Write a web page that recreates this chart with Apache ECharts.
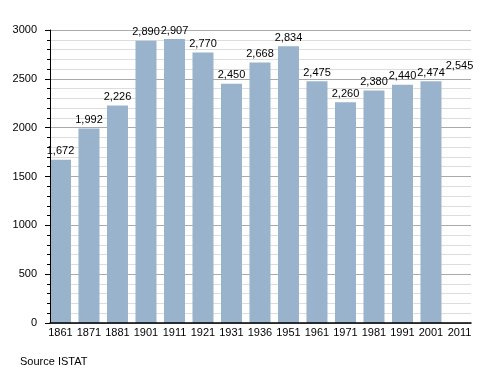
<!DOCTYPE html>
<html><head><meta charset="utf-8">
<script src="https://cdn.jsdelivr.net/npm/echarts@6/dist/echarts.min.js"></script>
<style>html,body{margin:0;padding:0;background:#fff}#c{width:500px;height:373px}</style>
</head><body><div id="c"></div>
<script>
var categories = ['1861','1871','1881','1901','1911','1921','1931','1936','1951','1961','1971','1981','1991','2001','2011'];
var values = [1672,1992,2226,2890,2907,2770,2450,2668,2834,2475,2260,2380,2440,2474,2545];
var hiddenBars = ['2011'];
var yTicks = [0,500,1000,1500,2000,2500,3000];
var sourceText = 'Source ISTAT';

var FONT = '"Liberation Sans", Arial, sans-serif';
var idx = categories.map(function(_, i){ return i; });
var chart = echarts.init(document.getElementById('c'), null, {renderer:'canvas'});
chart.setOption({
  animation:false,
  textStyle:{fontFamily:FONT},
  grid:{left:50, width:421, top:30, height:293, containLabel:false},
  xAxis:{
    type:'value', min:-0.368, max:14.404, z:5,
    axisLine:{show:true, onZero:false, lineStyle:{color:'#000', width:1.5}},
    axisTick:{show:false},
    splitLine:{show:false},
    axisLabel:{customValues:idx, margin:4, color:'#000', fontSize:11, fontFamily:FONT,
      formatter:function(v){ return categories[Math.round(v)]; }}
  },
  yAxis:[{
    type:'value', min:0, max:3000, interval:500, position:'left',
    axisLine:{show:false},
    axisTick:{show:false},
    minorTick:{show:false, splitNumber:5},
    splitLine:{show:true, lineStyle:{color:'#aaaaaa', width:1}},
    minorSplitLine:{show:true, lineStyle:{color:'#dddddd', width:1}},
    axisLabel:{show:false}
  },{
    type:'value', min:0, max:3000, interval:500, position:'left', offset:0, z:5,
    axisLine:{show:true, onZero:false, lineStyle:{color:'#000', width:1}},
    axisTick:{show:true, length:5, lineStyle:{color:'#000'}},
    minorTick:{show:true, splitNumber:5, length:3, lineStyle:{color:'#000'}},
    splitLine:{show:false},
    minorSplitLine:{show:false},
    axisLabel:{customValues:yTicks, margin:13, color:'#000', fontSize:11, fontFamily:FONT,
      formatter:function(v){ return String(v); }}
  }],
  title:{text:sourceText, left:20, top:356, padding:0, textStyle:{fontSize:11, fontWeight:'normal', color:'#000', fontFamily:FONT}},
  series:[{
    type:'bar', barWidth:21, z:2, yAxisIndex:0,
    data: values.map(function(v, i){
      var d = {value:[i, v]};
      if (hiddenBars.indexOf(categories[i]) >= 0) d.itemStyle = {color:'rgba(0,0,0,0)'};
      return d;
    }),
    itemStyle:{color:'#99b3cc'},
    label:{show:true, position:'top', distance:3, color:'#000', fontSize:11, fontFamily:FONT,
      formatter:function(p){ return p.value[1].toLocaleString('en-US'); }}
  }]
});
</script></body></html>
